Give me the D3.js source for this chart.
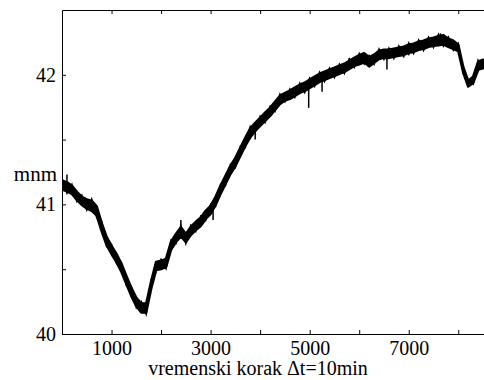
<!DOCTYPE html>
<html>
<head>
<meta charset="utf-8">
<script src="https://cdn.jsdelivr.net/npm/d3@7"></script>
<style>
  body { margin: 0; background: #fff; }
  .axis path, .axis line { stroke: #000; stroke-width: 1; }
  .axis text { fill: #000; }
  svg text { font-family: "Liberation Serif", "Times New Roman", serif; }
</style>
</head>
<body>
<div id="chart"></div>
<script>
// time step (every 100 steps), water level (m a.s.l.) and half-width of the noise band
const steps = d3.range(0, 8501, 100);
const level = [
  41.151, 41.135, 41.112, 41.066, 41.027, 41.004, 40.988, 40.950, 40.826, 40.718,
  40.649, 40.587, 40.510, 40.417, 40.324, 40.247, 40.201, 40.201, 40.378, 40.525,
  40.533, 40.548, 40.680, 40.741, 40.788, 40.741, 40.795, 40.834, 40.865, 40.919,
  40.958, 41.027, 41.112, 41.189, 41.266, 41.328, 41.405, 41.483, 41.552, 41.598,
  41.637, 41.676, 41.714, 41.761, 41.807, 41.830, 41.846, 41.869, 41.892, 41.907,
  41.931, 41.954, 41.977, 41.992, 42.008, 42.023, 42.039, 42.054, 42.077, 42.100,
  42.116, 42.131, 42.100, 42.124, 42.154, 42.162, 42.162, 42.170, 42.178, 42.185,
  42.201, 42.208, 42.224, 42.232, 42.247, 42.255, 42.263, 42.270, 42.247, 42.232,
  42.208, 42.039, 41.931, 41.961, 42.069, 42.085
];
const band = [
  0.050, 0.050, 0.045, 0.045, 0.045, 0.050, 0.055, 0.050, 0.045, 0.045,
  0.045, 0.045, 0.045, 0.045, 0.045, 0.045, 0.050, 0.050, 0.040, 0.045,
  0.045, 0.045, 0.045, 0.045, 0.050, 0.045, 0.045, 0.045, 0.045, 0.045,
  0.045, 0.045, 0.045, 0.045, 0.045, 0.045, 0.045, 0.045, 0.050, 0.045,
  0.045, 0.045, 0.045, 0.045, 0.045, 0.040, 0.045, 0.045, 0.045, 0.045,
  0.045, 0.045, 0.045, 0.045, 0.045, 0.045, 0.045, 0.045, 0.045, 0.045,
  0.050, 0.050, 0.050, 0.045, 0.045, 0.045, 0.045, 0.045, 0.045, 0.045,
  0.045, 0.045, 0.045, 0.045, 0.045, 0.045, 0.050, 0.050, 0.045, 0.045,
  0.035, 0.030, 0.030, 0.035, 0.045, 0.045
];
// isolated spikes: [step, value]
const spikes = [
  [100, 41.23], [700, 40.89], [1660, 40.16], [2400, 40.88], [3050, 40.88],
  [3900, 41.50], [4980, 41.745], [5250, 41.87], [5800, 42.13], [6220, 42.07],
  [6560, 42.04], [7000, 42.15], [7640, 42.32]
];

const xTicks = [1000, 2000, 3000, 4000, 5000, 6000, 7000, 8000];
const xLabels = [1000, 3000, 5000, 7000];
const yTicks = [40, 40.5, 41, 41.5, 42];
const yLabels = [40, 41, 42];

const W = 484, H = 380;
const margin = { top: 10, left: 62, bottom: 46 };
const plotW = 426;
const plotH = H - margin.top - margin.bottom;
const fontSize = 20;

const svg = d3.select('#chart').append('svg')
  .attr('width', W)
  .attr('height', H)
  .style('display', 'block');

const x = d3.scaleLinear().domain([0, 8600]).range([margin.left, margin.left + plotW]);
const y = d3.scaleLinear().domain([40, 42.5]).range([margin.top + plotH, margin.top]);

svg.append('clipPath').attr('id', 'clip')
  .append('rect')
  .attr('x', margin.left).attr('y', margin.top)
  .attr('width', plotW).attr('height', plotH);

const pts = steps.map((s, i) => ({ s, v: level[i], b: band[i] }));

const plot = svg.append('g').attr('clip-path', 'url(#clip)');

// solid core of the band
plot.append('path')
  .datum(pts)
  .attr('fill', '#000')
  .attr('stroke', '#000')
  .attr('stroke-width', 2.5)
  .attr('stroke-linejoin', 'round')
  .attr('d', d3.area()
    .x(d => x(d.s))
    .y0(d => y(d.v - d.b * 0.7))
    .y1(d => y(d.v + d.b * 0.7)));

// ragged edge: trace alternating between the upper and lower envelope
plot.append('path')
  .datum(pts)
  .attr('fill', 'none')
  .attr('stroke', '#000')
  .attr('stroke-width', 1.4)
  .attr('d', d3.line()
    .x(d => x(d.s))
    .y((d, i) => y(i % 2 ? d.v - d.b : d.v + d.b)));

const levelAt = d3.scaleLinear().domain(steps).range(level);

plot.selectAll('.spike')
  .data(spikes)
  .enter()
  .append('line')
  .attr('class', 'spike')
  .attr('x1', d => x(d[0]))
  .attr('x2', d => x(d[0]))
  .attr('y1', d => y(levelAt(d[0])))
  .attr('y2', d => y(d[1]))
  .attr('stroke', '#000')
  .attr('stroke-width', 1.5);

svg.append('g')
  .attr('class', 'axis')
  .attr('transform', `translate(0, ${margin.top + plotH})`)
  .call(d3.axisBottom(x).tickValues(xTicks).tickSizeInner(-4).tickSizeOuter(0).tickPadding(7)
    .tickFormat(d => (xLabels.includes(d) ? d : '')));

svg.append('g')
  .attr('class', 'axis')
  .attr('transform', `translate(0, ${margin.top})`)
  .call(d3.axisTop(x).tickValues(xTicks).tickSizeInner(-4).tickSizeOuter(0).tickFormat(''));

svg.append('g')
  .attr('class', 'axis')
  .attr('transform', `translate(${margin.left}, 0)`)
  .call(d3.axisLeft(y).tickValues(yTicks).tickSizeInner(-4).tickSizeOuter(0).tickPadding(6)
    .tickFormat(d => (yLabels.includes(d) ? d : '')));

svg.selectAll('.axis')
  .attr('font-family', null)
  .attr('font-size', fontSize);

svg.append('text')
  .attr('x', 57)
  .attr('y', 181)
  .attr('text-anchor', 'end')
  .attr('font-size', 21)
  .text('mnm');

svg.append('text')
  .attr('x', 258)
  .attr('y', 375)
  .attr('text-anchor', 'middle')
  .attr('font-size', fontSize)
  .text('vremenski korak \u0394t=10min');
</script>
</body>
</html>
